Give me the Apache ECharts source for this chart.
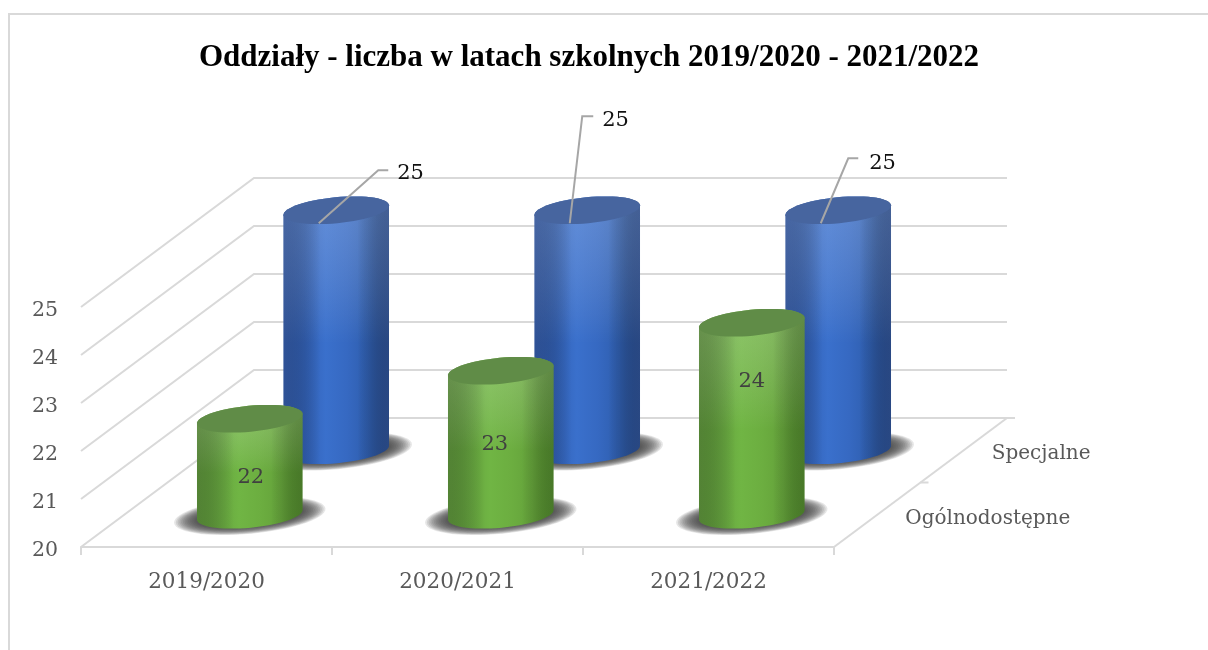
<!DOCTYPE html>
<html><head><meta charset="utf-8">
<style>html,body{margin:0;padding:0;background:#fff}#c{width:1208px;height:650px}</style>
<script src="https://cdn.jsdelivr.net/npm/echarts@6/dist/echarts.min.js"></script>
</head><body><div id="c"></div>
<script>
const titleText = 'Oddziały - liczba w latach szkolnych 2019/2020 - 2021/2022';
const categories = ['2019/2020', '2020/2021', '2021/2022'];
const depthCategories = ['Ogólnodostępne', 'Specjalne'];
const valuesOgolnodostepne = [22, 23, 24];
const valuesSpecjalne = [25, 25, 25];
const yTicks = [20, 21, 22, 23, 24, 25];

// projection of the depth axis and cylinder geometry
const DX = 173, DY = -129, RX = 53, RY = 13, TILT = -0.095;
const FONT = '"DejaVu Serif", serif';
const GRID = '#d9d9d9';

function ell(cx, cy, rx, ry, t0, t1, n) {
  const pts = [], ca = Math.cos(TILT), sa = Math.sin(TILT);
  for (let i = 0; i <= n; i++) {
    const t = t0 + (t1 - t0) * i / n, x = rx * Math.cos(t), y = ry * Math.sin(t);
    pts.push([cx + x * ca - y * sa, cy + x * sa + y * ca]);
  }
  return pts;
}
function hGrad(stops) {
  return { type: 'linear', x: 0, y: 0, x2: 1, y2: 0,
    colorStops: stops.map((c, i) => ({ offset: i / (stops.length - 1), color: c })) };
}
const looks = [
  { side: hGrad(['#5a9436', '#66a53f', '#70b544', '#6cae40', '#64a23a', '#4a8524']), top: '#608c47', sheen: 'rgba(215,235,200,0.28)', edge: 'rgba(70,100,50,0.35)' },
  { side: hGrad(['#2d57a5', '#3261b6', '#3a70cc', '#3669c2', '#2f5eae', '#234684']), top: '#47659f', sheen: 'rgba(190,210,245,0.30)', edge: 'rgba(50,75,130,0.4)' }
];
const DEPTH = [0.25, 0.75];
// label placement relative to the top of each cylinder
const innerLabelOffset = [[1, 59], [-6, 74], [0, 59]];
const leaders = [
  [[-17.5, 13], [42, -40], [52, -40], [61, -37]],
  [[-17.5, 13], [-5, -94], [6, -94], [15, -90]],
  [[-17.5, 13], [10, -52], [20, -52], [31, -47]]
];

function shadowRings(bx, by) {
  const rings = [], steps = 14;
  for (let s = 0; s < steps; s++) {
    const f = s / (steps - 1);
    rings.push({ type: 'polygon',
      shape: { points: ell(bx, by + 1, RX + 23 - 23 * f, RY + 5 - 7 * f, 0, 2 * Math.PI, 60) },
      style: { fill: 'rgba(60,60,60,0.13)' } });
  }
  return rings;
}

function cylinderRenderer(depthIdx) {
  const look = looks[depthIdx], d = DEPTH[depthIdx];
  return function (params, api) {
    const i = api.value(0), v = api.value(1);
    const top = api.coord([i, v]), base = api.coord([i, 20]);
    const tx = top[0] + DX * d, ty = top[1] + DY * d, bx = base[0] + DX * d, by = base[1] + DY * d;
    const body = ell(bx, by, RX, RY, 0, Math.PI, 30).concat(ell(tx, ty, RX, RY, Math.PI, 2 * Math.PI, 30));
    const children = shadowRings(bx, by).concat([
      { type: 'polygon', shape: { points: body }, style: { fill: look.side } },
      { type: 'polygon', shape: { points: body },
        style: { fill: { type: 'linear', x: 0.5, y: 0, x2: 0.5, y2: 1, colorStops: [
          { offset: 0, color: look.sheen }, { offset: 0.55, color: 'rgba(255,255,255,0)' }] } } },
      { type: 'polygon', shape: { points: body },
        style: { fill: { type: 'linear', x: 0, y: 0, x2: 1, y2: 0, colorStops: [
          { offset: 0, color: look.edge }, { offset: 0.35, color: 'rgba(0,0,0,0)' },
          { offset: 0.7, color: 'rgba(0,0,0,0)' }, { offset: 1, color: look.edge }] } } },
      { type: 'polygon', shape: { points: ell(tx, ty, RX, RY, 0, 2 * Math.PI, 60) }, style: { fill: look.top } }
    ]);
    if (depthIdx === 0) {
      const o = innerLabelOffset[i];
      children.push({ type: 'text', x: tx + o[0], y: ty + o[1],
        style: { text: String(v), font: '21px ' + FONT, fill: '#404040', align: 'center', verticalAlign: 'middle' } });
    } else {
      const l = leaders[i];
      children.push({ type: 'polyline', shape: { points: l.slice(0, 3).map(p => [tx + p[0], ty + p[1]]) },
        style: { stroke: '#a6a6a6', lineWidth: 2, fill: 'none' } });
      children.push({ type: 'text', x: tx + l[3][0], y: ty + l[3][1],
        style: { text: String(v), font: '21px ' + FONT, fill: '#111', align: 'left', verticalAlign: 'middle' } });
    }
    return { type: 'group', children };
  };
}

function wallRenderer(params, api) {
  const v = api.value(0), y = api.coord([0, v])[1];
  const cs = params.coordSys, x0 = cs.x, x1 = cs.x + cs.width;
  return { type: 'polyline', shape: { points: [[x0, y], [x0 + DX, y + DY], [x1 + DX, y + DY]] },
    style: { stroke: GRID, lineWidth: 2, fill: 'none' } };
}

function depthAxisRenderer(params, api) {
  const i = api.value(0), cs = params.coordSys;
  const x1 = cs.x + cs.width, y0 = api.coord([0, 20])[1];
  const children = [];
  if (i === 0) {
    children.push({ type: 'line', shape: { x1: x1, y1: y0, x2: x1 + DX, y2: y0 + DY },
      style: { stroke: GRID, lineWidth: 2 } });
  }
  const f = (i + 1) / 2;
  children.push({ type: 'line', shape: { x1: x1 + DX * f, y1: y0 + DY * f, x2: x1 + DX * f + 8, y2: y0 + DY * f },
    style: { stroke: GRID, lineWidth: 2 } });
  children.push({ type: 'text', x: x1 + DX * DEPTH[i] + 28, y: y0 + DY * DEPTH[i] + 4,
    style: { text: depthCategories[i], font: '20px ' + FONT, fill: '#595959', align: 'left', verticalAlign: 'middle' } });
  return { type: 'group', children };
}

const chart = echarts.init(document.getElementById('c'), null, { renderer: 'canvas' });
chart.setOption({
  animation: false,
  backgroundColor: '#fff',
  title: { text: titleText, left: 584, top: 37, textAlign: 'center',
    textStyle: { fontFamily: 'Liberation Serif', fontWeight: 'bold', fontSize: 31, color: '#000' } },
  graphic: [{ type: 'rect', silent: true, shape: { x: 9, y: 14, width: 1400, height: 800 },
    style: { fill: 'none', stroke: GRID, lineWidth: 2 }, z: -1 }],
  grid: { left: 81, top: 307, width: 753, height: 240 },
  xAxis: { type: 'category', data: categories,
    axisLine: { lineStyle: { color: GRID, width: 2 } },
    axisTick: { show: true, alignWithLabel: false, length: 8, lineStyle: { color: GRID, width: 2 } },
    axisLabel: { margin: 24, fontFamily: 'DejaVu Serif', fontSize: 21.5, color: '#595959' } },
  yAxis: { type: 'value', min: 20, max: 25, interval: 1,
    axisLine: { show: false }, axisTick: { show: false }, splitLine: { show: false },
    axisLabel: { margin: 23, verticalAlign: 'top', lineHeight: 8, fontFamily: 'DejaVu Serif', fontSize: 20.5, color: '#595959' } },
  series: [
    { type: 'custom', name: 'walls', coordinateSystem: 'cartesian2d', renderItem: wallRenderer, silent: true,
      data: yTicks.map(v => [v]), encode: { y: 0 }, z: 1 },
    { type: 'custom', name: 'depth', coordinateSystem: 'cartesian2d', renderItem: depthAxisRenderer, silent: true,
      data: depthCategories.map((c, i) => [i]), z: 1 },
    { type: 'custom', name: depthCategories[1], coordinateSystem: 'cartesian2d', renderItem: cylinderRenderer(1),
      data: valuesSpecjalne.map((v, i) => [i, v]), encode: { x: 0, y: 1 }, z: 2 },
    { type: 'custom', name: depthCategories[0], coordinateSystem: 'cartesian2d', renderItem: cylinderRenderer(0),
      data: valuesOgolnodostepne.map((v, i) => [i, v]), encode: { x: 0, y: 1 }, z: 3 }
  ]
});
</script></body></html>
